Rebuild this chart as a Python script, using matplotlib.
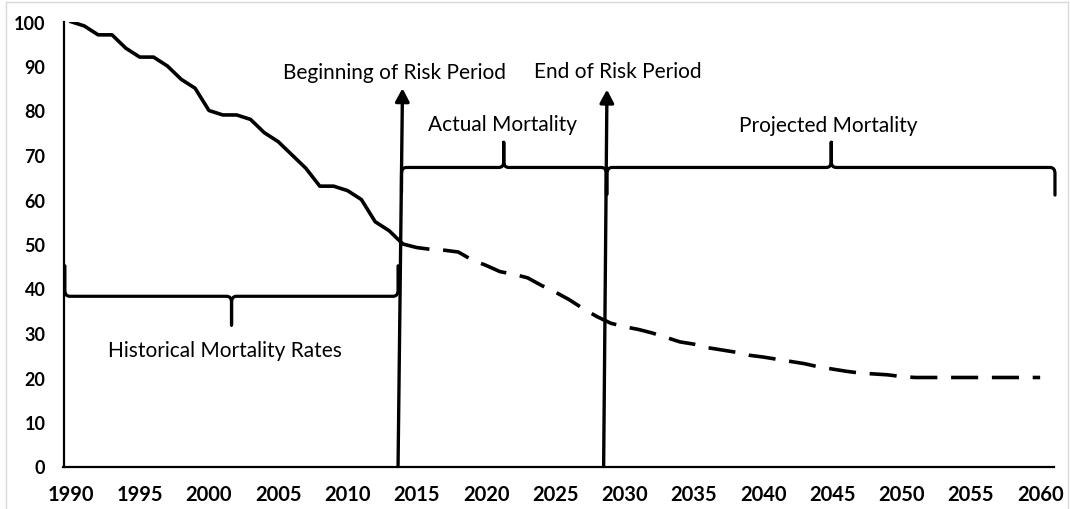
import numpy as np
import matplotlib
matplotlib.use("Agg")
import matplotlib.pyplot as plt
from matplotlib.path import Path
from matplotlib.patches import PathPatch
from matplotlib.lines import Line2D

plt.rcParams['font.family'] = ['Lato', 'DejaVu Sans']

# datos
anios_hist = list(range(1990, 2015))
mort_hist = [100, 99, 97, 97, 94, 92, 92, 90, 87, 85, 80, 79, 79, 78, 75,
             73, 70, 67, 63, 63, 62, 60, 55, 53, 50]
anios_proy = list(range(2014, 2061))
mort_proy = [50, 49.2, 48.8, 48.6, 48.2, 46.4, 45.2, 43.8, 43.2, 42.4, 40.7,
             39.2, 37.5, 35.5, 33.7, 32.2, 31.4, 30.8, 30, 29, 28, 27.5, 26.7,
             26.2, 25.7, 25, 24.6, 24.1, 23.6, 23.1, 22.4, 21.9, 21.4, 21.0,
             20.8, 20.6, 20.2, 20, 20, 20, 20, 20, 20, 20, 20, 20, 20]
xticks = list(range(1990, 2061, 5))
yticks = list(range(0, 101, 10))


def llave(ax, x0, x1, xc, y, punta, fin0, fin1, rx=0.36, ry=1.35):
    # llave tipo Excel: extremos curvos y punta fina en xc
    s0 = np.sign(fin0 - y)
    s1 = np.sign(fin1 - y)
    st = np.sign(punta - y)
    verts = [(x0, fin0), (x0, y + s0 * ry), (x0, y), (x0 + rx, y),
             (xc - rx, y), (xc, y), (xc, y + st * ry), (xc, punta),
             (xc, y + st * ry), (xc, y), (xc + rx, y),
             (x1 - rx, y), (x1, y), (x1, y + s1 * ry), (x1, fin1)]
    codes = [Path.MOVETO, Path.LINETO, Path.CURVE3, Path.CURVE3,
             Path.LINETO, Path.CURVE3, Path.CURVE3, Path.LINETO,
             Path.LINETO, Path.CURVE3, Path.CURVE3,
             Path.LINETO, Path.CURVE3, Path.CURVE3, Path.LINETO]
    ax.add_patch(PathPatch(Path(verts, codes), fill=False, lw=2.3,
                           edgecolor='black', capstyle='round',
                           joinstyle='round', clip_on=False))


fig = plt.figure(figsize=(10.7, 5.1), dpi=100)
ax = fig.add_axes([63.5 / 1070, 42.5 / 510, (1054 - 63.5) / 1070, 445 / 510])

ax.plot(anios_hist, mort_hist, color='black', lw=2.6,
        solid_joinstyle='round', solid_capstyle='round')
ax.plot(anios_proy, mort_proy, color='black', lw=2.6, dashes=(7.5, 3.8),
        dash_capstyle='butt')

ax.set_xlim(1989.5, 2061.0)
ax.set_ylim(0, 100)
ax.set_xticks(xticks)
ax.set_yticks(yticks)
ax.tick_params(length=0)
ax.tick_params(axis='y', pad=13, labelsize=13)
ax.tick_params(axis='x', pad=12.5, labelsize=14.5)
for lab in ax.get_xticklabels() + ax.get_yticklabels():
    lab.set_fontweight('bold')
for s in ['top', 'right']:
    ax.spines[s].set_visible(False)
for s in ['left', 'bottom']:
    ax.spines[s].set_linewidth(1.6)
    ax.spines[s].set_color('black')

# flechas del periodo de riesgo
flecha = dict(arrowstyle='-|>,head_length=0.6,head_width=0.32',
              mutation_scale=13, lw=2.4, color='black', shrinkA=0, shrinkB=0)
ax.annotate('', xy=(2013.97, 85.0), xytext=(2013.65, 0), arrowprops=flecha)
ax.annotate('', xy=(2028.73, 84.7), xytext=(2028.49, 0), arrowprops=flecha)

# llaves
llave(ax, 1989.6, 2013.65, 2001.63, 38.25, 31.8, 45.1, 45.1)
llave(ax, 2013.9, 2028.68, 2021.28, 67.2, 72.85, 61.6, 61.2)
llave(ax, 2028.74, 2061.07, 2044.92, 67.2, 72.85, 61.2, 61.0)

ax.text(2013.41, 88.6, 'Beginning of Risk Period', ha='center', va='center', fontsize=15)
ax.text(2029.5, 88.8, 'End of Risk Period', ha='center', va='center', fontsize=15)
ax.text(2021.2, 77.0, 'Actual Mortality', ha='center', va='center', fontsize=15)
ax.text(2044.72, 76.7, 'Projected Mortality', ha='center', va='center', fontsize=15)
ax.text(2001.15, 26.1, 'Historical Mortality Rates', ha='center', va='center', fontsize=15)

# marco gris del grafico
gris = '#d9d9d9'
fig.add_artist(Line2D([5.5 / 1070, 5.5 / 1070], [0, 1 - 3 / 510], color=gris, lw=1))
fig.add_artist(Line2D([5.5 / 1070, 1068 / 1070], [1 - 3 / 510, 1 - 3 / 510], color=gris, lw=1))
fig.add_artist(Line2D([1068 / 1070, 1068 / 1070], [0, 1 - 3 / 510], color=gris, lw=1))

fig.savefig('out.png', dpi=100)
